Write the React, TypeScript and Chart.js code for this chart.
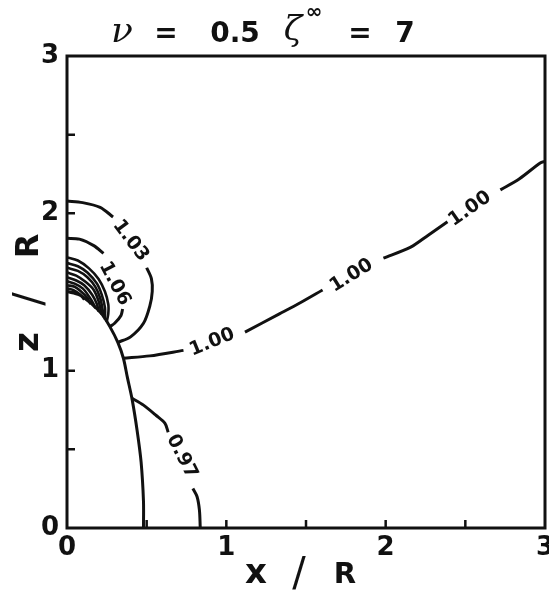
import React, { useEffect, useRef } from 'react';
import { Chart, registerables } from 'chart.js';

Chart.register(...registerables);

// ---- axis ticks ----
const xLabelTicks = [0, 1, 2, 3];
const yLabelTicks = [0, 1, 2, 3];
const minorTicks = [0.5, 1, 1.5, 2, 2.5];

// ---- body outline (x/R, z/R) ----
const bodyOutline = [
  [0.48, 0], [0.48, 0.17], [0.465, 0.42], [0.44, 0.62], [0.409, 0.816], [0.379, 0.957],
  [0.354, 1.079], [0.319, 1.18], [0.269, 1.28], [0.218, 1.361], [0.158, 1.422], [0.078, 1.482], [0, 1.503],
];

// ---- contour 0.97 (two pieces around label) ----
const contour097a = [[0.406, 0.826], [0.48, 0.781], [0.56, 0.715], [0.615, 0.665], [0.635, 0.609]];
const contour097b = [[0.79, 0.251], [0.816, 0.2], [0.831, 0.115], [0.836, 0.009], [0.836, 0]];

// ---- contour 1.00 (four pieces between labels) ----
const contour100a = [[0.354, 1.079], [0.52, 1.094], [0.731, 1.129]];
const contour100b = [[1.117, 1.245], [1.333, 1.361], [1.464, 1.432], [1.604, 1.513]];
const contour100c = [[1.986, 1.715], [2.157, 1.785], [2.267, 1.861], [2.388, 1.947]];
const contour100d = [[2.72, 2.149], [2.84, 2.22], [2.97, 2.32], [3.0, 2.33]];

// ---- contour 1.03 ----
const contour103a = [[0, 2.078], [0.098, 2.068], [0.208, 2.038], [0.289, 1.977]];
const contour103b = [[0.5, 1.654], [0.53, 1.584], [0.535, 1.503], [0.52, 1.412], [0.48, 1.301], [0.399, 1.215], [0.319, 1.18]];

// ---- contour 1.06 ----
const contour106a = [[0, 1.841], [0.078, 1.836], [0.168, 1.795], [0.229, 1.745]];
const contour106b = [[0.349, 1.392], [0.339, 1.351], [0.299, 1.301], [0.269, 1.28]];

// ---- inner (dense, unlabeled) contours ----
const contour109 = [[0, 1.72], [0.068, 1.7], [0.138, 1.65], [0.198, 1.583], [0.238, 1.503], [0.259, 1.422], [0.259, 1.361], [0.249, 1.31]];
const contour112 = [[0, 1.684], [0.068, 1.664], [0.128, 1.624], [0.188, 1.553], [0.218, 1.483], [0.238, 1.402], [0.238, 1.326]];
const contour115 = [[0, 1.654], [0.068, 1.634], [0.128, 1.594], [0.178, 1.533], [0.208, 1.462], [0.223, 1.391], [0.228, 1.341]];
const contour118 = [[0, 1.624], [0.058, 1.604], [0.118, 1.563], [0.168, 1.513], [0.198, 1.442], [0.218, 1.356]];
const contour121 = [[0, 1.594], [0.058, 1.573], [0.108, 1.543], [0.158, 1.483], [0.188, 1.422], [0.198, 1.376]];
const contour124 = [[0, 1.568], [0.048, 1.553], [0.098, 1.523], [0.138, 1.472], [0.168, 1.422], [0.178, 1.396]];
const contour127 = [[0, 1.543], [0.048, 1.533], [0.088, 1.503], [0.128, 1.462], [0.148, 1.422]];
const contour130 = [[0, 1.523], [0.038, 1.513], [0.078, 1.488], [0.108, 1.452]];

// ---- contour labels ----
const labelText = ['1.00', '1.00', '1.00', '1.03', '1.06', '0.97'];
const labelX = [0.911, 1.785, 2.529, 0.399, 0.299, 0.721];
const labelY = [1.18, 1.604, 2.028, 1.826, 1.553, 0.453];
const labelAngle = [-22, -32, -35, 53, 62, 63];

const mainLines = [bodyOutline, contour097a, contour097b, contour100a, contour100b, contour100c, contour100d,
  contour103a, contour103b, contour106a, contour106b];
const denseLines = [contour109, contour112, contour115, contour118, contour121, contour124, contour127, contour130];

const INK = '#111';
const SANS = '"DejaVu Sans", "Liberation Sans", sans-serif';
const SERIF = '"DejaVu Serif", serif';

const decorPlugin = {
  id: 'decor',
  afterDraw(chart: any) {
    const { ctx, chartArea } = chart;
    const xs = chart.scales.x;
    const ys = chart.scales.y;
    const { left, right, top, bottom } = chartArea;
    ctx.save();
    // frame
    ctx.strokeStyle = INK;
    ctx.lineWidth = 3;
    ctx.strokeRect(left, top, right - left, bottom - top);
    // inward minor ticks
    ctx.lineWidth = 2.5;
    ctx.beginPath();
    minorTicks.forEach((v) => {
      const px = xs.getPixelForValue(v);
      ctx.moveTo(px, bottom);
      ctx.lineTo(px, bottom - 8);
      const py = ys.getPixelForValue(v);
      ctx.moveTo(left, py);
      ctx.lineTo(left + 8, py);
    });
    ctx.stroke();

    // contour labels
    ctx.fillStyle = INK;
    ctx.font = `bold 19px ${SANS}`;
    ctx.textAlign = 'center';
    ctx.textBaseline = 'middle';
    labelText.forEach((t, i) => {
      const px = xs.getPixelForValue(labelX[i]);
      const py = ys.getPixelForValue(labelY[i]);
      ctx.save();
      ctx.translate(px, py);
      ctx.rotate((labelAngle[i] * Math.PI) / 180);
      ctx.fillText(t, 0, 0);
      ctx.restore();
    });

    // title: ν = 0.5 ζ∞ = 7
    const baseY = 42;
    ctx.textBaseline = 'alphabetic';
    ctx.font = `italic 36px ${SERIF}`;
    ctx.fillText('\u03BD', 122, baseY);
    ctx.font = `italic 34px ${SERIF}`;
    ctx.fillText('\u03B6', 293, baseY - 2);
    ctx.font = `bold 28px ${SANS}`;
    ctx.fillText('=', 166, baseY);
    ctx.fillText('0.5', 235, baseY);
    ctx.fillText('=', 360, baseY);
    ctx.fillText('7', 405, baseY);
    ctx.font = `bold 20px ${SANS}`;
    ctx.textBaseline = 'middle';
    ctx.fillText('\u221E', 314, 13);

    // x axis title
    ctx.textBaseline = 'alphabetic';
    ctx.font = `bold 34px ${SANS}`;
    ctx.fillText('x', 256, 583);
    ctx.font = `40px ${SANS}`;
    ctx.fillText('/', 299, 586);
    ctx.font = `bold 29px ${SANS}`;
    ctx.fillText('R', 345, 583);
    // y axis title (rotated)
    ctx.save();
    ctx.translate(38, 0);
    ctx.rotate(-Math.PI / 2);
    ctx.font = `bold 32px ${SANS}`;
    ctx.fillText('R', -246, 0);
    ctx.font = `40px ${SANS}`;
    ctx.fillText('/', -299, 4);
    ctx.font = `bold 34px ${SANS}`;
    ctx.fillText('z', -342, 0);
    ctx.restore();

    ctx.restore();
  },
};

export default function App() {
  const ref = useRef<HTMLCanvasElement | null>(null);
  useEffect(() => {
    if (!ref.current) return;
    const toPts = (arr: number[][]) => arr.map(([x, y]) => ({ x, y }));
    const datasets: any[] = [];
    mainLines.forEach((l) =>
      datasets.push({ data: toPts(l), borderColor: INK, borderWidth: 3, pointRadius: 0, tension: 0.3, fill: false })
    );
    denseLines.forEach((l) =>
      datasets.push({ data: toPts(l), borderColor: INK, borderWidth: 2.6, pointRadius: 0, tension: 0.3, fill: false })
    );
    const tickFont = { family: SANS, size: 26, weight: 'bold' as const };
    const chart = new Chart(ref.current, {
      type: 'line',
      data: { datasets },
      options: {
        animation: false,
        responsive: false,
        events: [],
        layout: { padding: { top: 56, right: 4, left: 0, bottom: 0 } },
        plugins: { legend: { display: false }, tooltip: { enabled: false }, title: { display: false } },
        scales: {
          x: {
            type: 'linear',
            min: 0,
            max: 3,
            grid: { display: false, drawTicks: false },
            border: { display: false },
            ticks: { font: tickFont, color: INK, padding: 5, maxRotation: 0, autoSkip: false },
            afterBuildTicks: (s: any) => {
              s.ticks = xLabelTicks.map((v) => ({ value: v }));
            },
            afterFit: (s: any) => {
              s.height = 67;
              s.paddingLeft = 0;
              s.paddingRight = 0;
            },
          },
          y: {
            type: 'linear',
            min: 0,
            max: 3,
            grid: { display: false, drawTicks: false },
            border: { display: false },
            ticks: { font: tickFont, color: INK, padding: 8, autoSkip: false },
            afterBuildTicks: (s: any) => {
              s.ticks = yLabelTicks.map((v) => ({ value: v }));
            },
            afterFit: (s: any) => {
              s.width = 67;
              s.paddingTop = 0;
              s.paddingBottom = 0;
            },
          },
        },
      },
      plugins: [decorPlugin],
    });
    return () => chart.destroy();
  }, []);
  return (
    <div style={{ position: 'fixed', left: 0, top: 0, width: 549, height: 595, background: '#fff' }}>
      <canvas ref={ref} width={549} height={595} style={{ display: 'block' }} />
    </div>
  );
}
